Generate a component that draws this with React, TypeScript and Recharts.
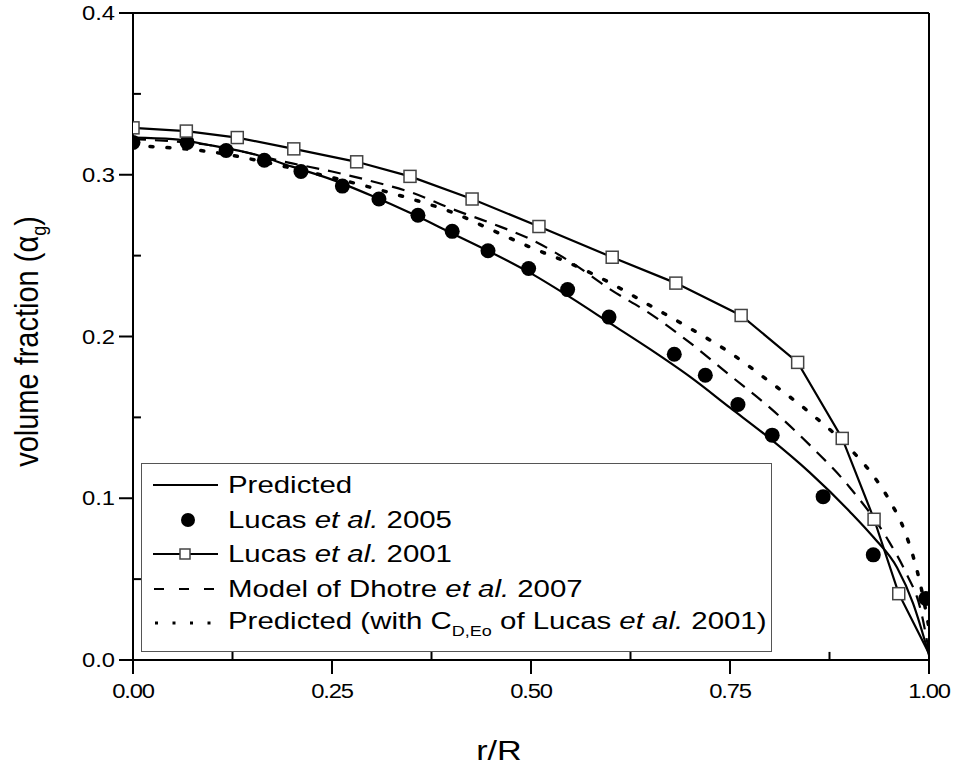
import React from "react";
import { ComposedChart, Line, Scatter, XAxis, YAxis, ReferenceLine, Legend } from "recharts";

// r/R positions and gas volume fraction for each curve
const predictedR = [0, 0.05, 0.1, 0.15, 0.2, 0.25, 0.3, 0.35, 0.4, 0.45, 0.5, 0.55, 0.6, 0.65, 0.7, 0.75, 0.8, 0.85, 0.9, 0.93, 0.96, 0.98, 1.0];
const predictedAlpha = [0.323, 0.322, 0.318, 0.313, 0.305, 0.297, 0.287, 0.276, 0.264, 0.252, 0.239, 0.224, 0.208, 0.192, 0.175, 0.156, 0.137, 0.116, 0.092, 0.076, 0.057, 0.035, 0.003];

const lucas2005R = [0, 0.068, 0.117, 0.165, 0.211, 0.263, 0.309, 0.358, 0.401, 0.446, 0.497, 0.546, 0.598, 0.68, 0.719, 0.76, 0.803, 0.867, 0.93, 0.996];
const lucas2005Alpha = [0.32, 0.32, 0.315, 0.309, 0.302, 0.293, 0.285, 0.275, 0.265, 0.253, 0.242, 0.229, 0.212, 0.189, 0.176, 0.158, 0.139, 0.101, 0.065, 0.038];

const lucas2001R = [0, 0.067, 0.131, 0.202, 0.281, 0.348, 0.426, 0.51, 0.602, 0.682, 0.764, 0.835, 0.891, 0.931, 0.962, 1.0];
const lucas2001Alpha = [0.329, 0.327, 0.323, 0.316, 0.308, 0.299, 0.285, 0.268, 0.249, 0.233, 0.213, 0.184, 0.137, 0.087, 0.041, 0.004];

const dhotreR = [0, 0.1, 0.2, 0.25, 0.3, 0.35, 0.4, 0.45, 0.5, 0.55, 0.6, 0.65, 0.7, 0.75, 0.8, 0.85, 0.9, 0.95, 0.97, 0.99, 1.0];
const dhotreAlpha = [0.322, 0.318, 0.307, 0.302, 0.296, 0.289, 0.279, 0.27, 0.26, 0.246, 0.229, 0.214, 0.196, 0.176, 0.156, 0.133, 0.107, 0.073, 0.055, 0.03, 0.005];

const cdEoR = [0, 0.1, 0.2, 0.3, 0.35, 0.4, 0.45, 0.5, 0.55, 0.6, 0.65, 0.7, 0.75, 0.8, 0.85, 0.9, 0.93, 0.95, 0.97, 0.99, 1.0];
const cdEoAlpha = [0.318, 0.314, 0.304, 0.292, 0.285, 0.277, 0.266, 0.255, 0.245, 0.233, 0.219, 0.205, 0.19, 0.172, 0.153, 0.131, 0.114, 0.099, 0.079, 0.045, 0.02];

const xTicks = [0, 0.25, 0.5, 0.75, 1];
const yTicks = [0, 0.1, 0.2, 0.3, 0.4];
const xMinorTicks = [0.125, 0.375, 0.625, 0.875];
const yMinorTicks = [0.05, 0.15, 0.25, 0.35];

const zip = (r: number[], a: number[]) => r.map((v, i) => ({ r: v, a: a[i] }));

const predicted = zip(predictedR, predictedAlpha);
const lucas2005 = zip(lucas2005R, lucas2005Alpha);
const lucas2001 = zip(lucas2001R, lucas2001Alpha);
const dhotre = zip(dhotreR, dhotreAlpha);
const cdEo = zip(cdEoR, cdEoAlpha);

const FONT = '"Liberation Sans", Arial, Helvetica, sans-serif';
// the original figure is a bit wider than tall, so text is stretched sideways
const SX = 1.22;

const squareDot = (props: any) => {
  const { cx, cy, index } = props;
  if (index === lucas2001.length - 1) return <g key={`sq-${index}`} />;
  return (
    <rect key={`sq-${index}`} x={cx - 6} y={cy - 6} width={12} height={12} fill="#fff" stroke="#444" strokeWidth={1.5} />
  );
};

const circleShape = (props: any) => <circle cx={props.cx} cy={props.cy} r={7.5} fill="#000" />;

const XTick = (props: any) => {
  const { x, y, payload } = props;
  return (
    <text transform={`translate(${x}, ${y + 20}) scale(${SX}, 1)`} textAnchor="middle" fontSize={19.5} fill="#000" fontFamily={FONT} letterSpacing={-1}>
      {payload.value.toFixed(2)}
    </text>
  );
};

const YTick = (props: any) => {
  const { x, y, payload } = props;
  return (
    <text transform={`translate(${x}, ${y + 7}) scale(${SX}, 1)`} textAnchor="end" fontSize={19.5} fill="#000" fontFamily={FONT}>
      {payload.value.toFixed(1)}
    </text>
  );
};

const renderYLabel = (props: any) => {
  const vb = props.viewBox;
  const cx = vb.x + 5;
  const cy = vb.y + vb.height / 2 + 5;
  return (
    <text transform={`translate(${cx}, ${cy}) rotate(-90) scale(1, 1.12)`} textAnchor="middle" fontSize={29} fill="#000" fontFamily={FONT}>
      volume fraction (α
      <tspan dy={7} fontSize={18}>g</tspan>
      <tspan dy={-7}>)</tspan>
    </text>
  );
};

const renderXLabel = (props: any) => {
  const vb = props.viewBox;
  return (
    <text transform={`translate(${vb.x + vb.width / 2 - 32}, ${vb.y + 100}) scale(${SX}, 1)`} textAnchor="middle" fontSize={28} fill="#000" fontFamily={FONT}>
      r/R
    </text>
  );
};

const stretch: React.CSSProperties = { display: "inline-block", transform: "scaleX(1.2)", transformOrigin: "left center", whiteSpace: "nowrap" };

const LegendBox = () => {
  const row: React.CSSProperties = { display: "flex", alignItems: "center", height: 34.5 };
  const sample = (kind: string) => (
    <svg width={86} height={34} style={{ flex: "none" }}>
      {kind === "solid" && <line x1={11} y1={17} x2={76} y2={17} stroke="#000" strokeWidth={2} />}
      {kind === "circle" && <circle cx={46} cy={17} r={7} fill="#000" />}
      {kind === "square" && (
        <g>
          <line x1={11} y1={17} x2={76} y2={17} stroke="#000" strokeWidth={2} />
          <rect x={38} y={12} width={10} height={10} fill="#fff" stroke="#444" strokeWidth={1.5} />
        </g>
      )}
      {kind === "dash" && <line x1={12} y1={17} x2={76} y2={17} stroke="#000" strokeWidth={2} strokeDasharray="10 15" />}
      {kind === "dot" && <line x1={13} y1={17} x2={76} y2={17} stroke="#000" strokeWidth={3} strokeDasharray="3 14.5" />}
    </svg>
  );
  return (
    <div
      style={{
        width: "100%",
        height: "100%",
        boxSizing: "border-box",
        border: "1.5px solid #555",
        background: "#fff",
        paddingTop: 4,
        fontFamily: FONT,
        fontSize: 24.5,
        color: "#000",
      }}
    >
      <div style={row}>
        {sample("solid")}
        <span style={stretch}>Predicted</span>
      </div>
      <div style={row}>
        {sample("circle")}
        <span style={stretch}>
          Lucas <i>et al.</i> 2005
        </span>
      </div>
      <div style={row}>
        {sample("square")}
        <span style={stretch}>
          Lucas <i>et al.</i> 2001
        </span>
      </div>
      <div style={row}>
        {sample("dash")}
        <span style={stretch}>
          Model of Dhotre <i>et al.</i> 2007
        </span>
      </div>
      <div style={row}>
        {sample("dot")}
        <span style={stretch}>
          Predicted (with C<span style={{ fontSize: 15, verticalAlign: -7 }}>D,Eo</span> of Lucas <i>et al.</i> 2001)
        </span>
      </div>
    </div>
  );
};

export default function App() {
  return (
    <div style={{ position: "absolute", left: 0, top: 0, background: "#fff", fontFamily: FONT }}>
      <ComposedChart width={958} height={771} margin={{ top: 13, right: 29, bottom: 51, left: 33 }}>
        <XAxis
          dataKey="r"
          type="number"
          domain={[0, 1]}
          ticks={xTicks}
          interval={0}
          allowDataOverflow
          height={60}
          tickSize={14}
          tickMargin={4}
          axisLine={{ stroke: "#000", strokeWidth: 2 }}
          tickLine={{ stroke: "#000", strokeWidth: 2 }}
          tick={<XTick />}
          label={renderXLabel}
        />
        <YAxis
          type="number"
          domain={[0, 0.4]}
          ticks={yTicks}
          interval={0}
          allowDataOverflow
          width={100}
          tickSize={14}
          tickMargin={4}
          axisLine={{ stroke: "#000", strokeWidth: 2 }}
          tickLine={{ stroke: "#000", strokeWidth: 2 }}
          tick={<YTick />}
          label={renderYLabel}
        />
        <ReferenceLine y={0.4} stroke="#000" strokeWidth={2} />
        <ReferenceLine x={1} stroke="#000" strokeWidth={2} />
        {xMinorTicks.map((t) => (
          <ReferenceLine key={`xm-${t}`} segment={[{ x: t, y: 0 }, { x: t, y: 0.005 }]} stroke="#000" strokeWidth={2} />
        ))}
        {yMinorTicks.map((t) => (
          <ReferenceLine key={`ym-${t}`} segment={[{ x: 0, y: t }, { x: 0.01, y: t }]} stroke="#000" strokeWidth={2} />
        ))}
        <Line data={dhotre} dataKey="a" type="monotone" stroke="#000" strokeWidth={2.2} strokeDasharray="13 9" dot={false} isAnimationActive={false} />
        <Line data={cdEo} dataKey="a" type="monotone" stroke="#000" strokeWidth={3.5} strokeDasharray="3 14" strokeLinecap="round" dot={false} isAnimationActive={false} />
        <Line data={predicted} dataKey="a" type="monotone" stroke="#000" strokeWidth={2.2} dot={false} isAnimationActive={false} />
        <Scatter data={lucas2005} dataKey="a" fill="#000" shape={circleShape} isAnimationActive={false} />
        <Line data={lucas2001} dataKey="a" type="linear" stroke="#000" strokeWidth={2.2} dot={squareDot} isAnimationActive={false} />
        <Legend
          layout="vertical"
          align="center"
          verticalAlign="middle"
          content={() => <LegendBox />}
          wrapperStyle={{ left: 141, top: 463, width: 631, height: 189 }}
        />
      </ComposedChart>
    </div>
  );
}
